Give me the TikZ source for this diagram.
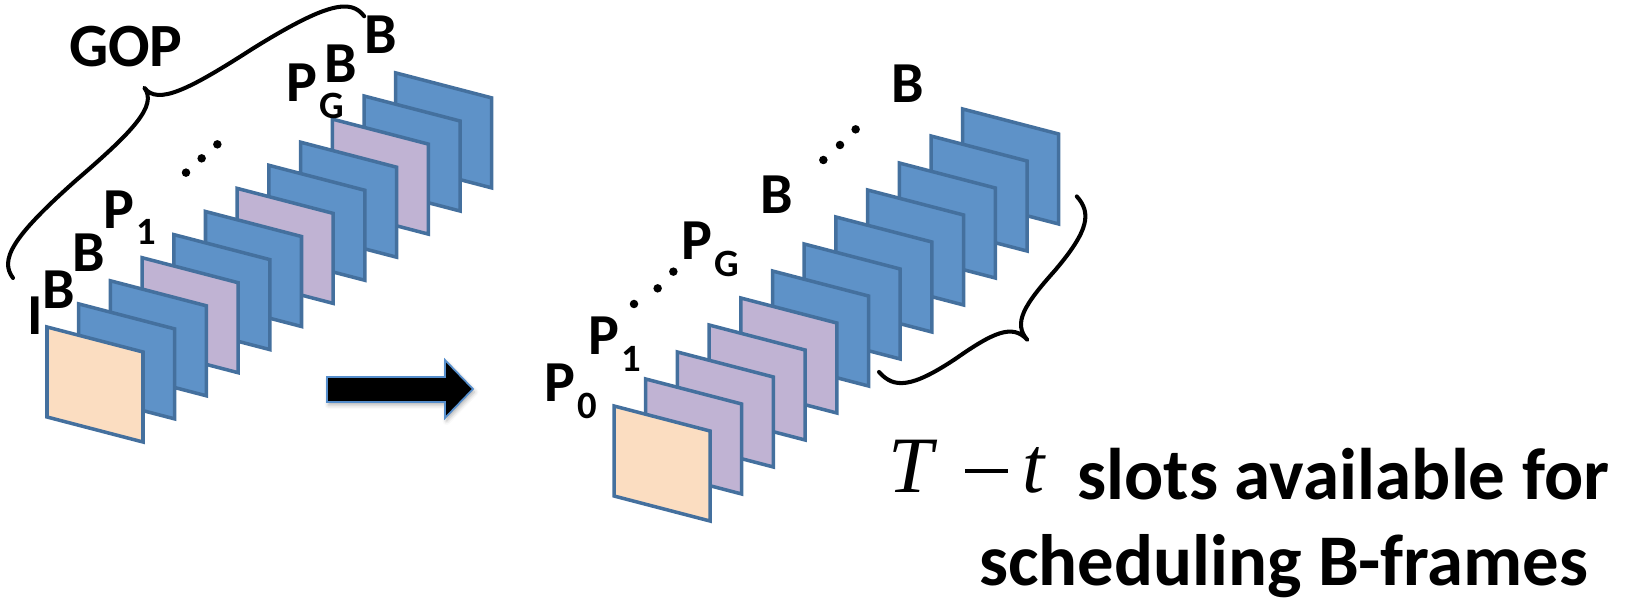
\documentclass[tikz,border=0pt]{standalone}
\usepackage{fontspec}
\setmainfont{Carlito}
\newfontfamily\timesfont{Liberation Serif}
\usetikzlibrary{shadows.blur}

\definecolor{frameblue}{RGB}{94,146,200}
\definecolor{framepurple}{RGB}{192,179,211}
\definecolor{framepeach}{RGB}{251,221,193}
\definecolor{frameedge}{RGB}{68,112,158}
\definecolor{arrowedge}{RGB}{86,142,204}

\newcommand{\labelsize}{\fontsize{33}{36}\selectfont\bfseries}
\newcommand{\subsize}{\fontsize{22}{24}\selectfont\bfseries}
% curly brace from (0,0) to (#1,0), tip at height #2
\newcommand{\bracepath}[2]{(0,0) .. controls (0,0.3*#2) and (0.05*#1,0.45*#2) .. (0.25*#1,0.55*#2)
  .. controls (0.42*#1,0.62*#2) and (0.5*#1,0.7*#2) .. (0.5*#1,#2)
  .. controls (0.5*#1,0.7*#2) and (0.58*#1,0.62*#2) .. (0.75*#1,0.55*#2)
  .. controls (0.95*#1,0.45*#2) and (#1,0.3*#2) .. (#1,0)}

\begin{document}
\begin{tikzpicture}[
    gopframe/.style={draw=frameedge, line width=2pt},
    lbl/.style={anchor=base west, inner sep=0pt, font=\labelsize},
    sublbl/.style={anchor=base west, inner sep=0pt, font=\subsize},
    bracestroke/.style={line width=2.3pt, line cap=round, line join=round}
  ]
  \useasboundingbox (0,0) rectangle (32.54,12.04);

  % GOP frames (drawn back to front)
  \foreach \i/\col in {11/frameblue,10/frameblue,9/framepurple,8/frameblue,7/frameblue,6/framepurple,
                       5/frameblue,4/frameblue,3/framepurple,2/frameblue,1/frameblue,0/framepeach}
    \draw[gopframe, fill=\col, shift={(0.94+\i*0.634,5.5+\i*0.462)}]
      (0,0) -- (1.92,-0.5) -- (1.92,-2.3) -- (0,-1.8) -- cycle;

  % frame labels
  \node[lbl] (iframe) at (0.54,5.34) {I};
  \node[lbl] (bfirst) at (0.85,5.866) {B};
  \node[lbl] (bsecond) at (1.44,6.606) {B};
  \node[lbl] (pone) at (2.066,7.474) {P};
  \node[sublbl] (ponesub) at ([xshift=1pt, yshift=-0.33cm]pone.base east) {1};
  \node[lbl] (pg) at (5.72,10.006) {P};
  \node[sublbl] (pgsub) at ([xshift=1pt, yshift=-0.33cm]pg.base east) {G};
  \node[lbl] (bmid) at (6.486,10.386) {B};
  \node[lbl] (blast) at (7.286,10.974) {B};
  \foreach \p in {(3.72,8.587),(4.033,8.873),(4.347,9.153)}
    \fill \p circle (0.085);

  % GOP brace
  \node[lbl, font=\fontsize{35}{38}\selectfont\bfseries] (gop) at (1.374,10.706) {GOP};
  \begin{scope}[shift={(0.26,6.48)}, rotate=36.7]
    \draw[bracestroke] \bracepath{8.76}{1.48};
  \end{scope}

  % block arrow
  \draw[arrowedge, line width=1pt, fill=black,
        blur shadow={shadow xshift=0.03cm, shadow yshift=-0.06cm, shadow blur radius=0.08cm, shadow opacity=30}]
    (6.54,4.5) -- (8.9,4.5) -- (8.9,4.84) -- (9.46,4.26) -- (8.9,3.68) -- (8.9,4.0) -- (6.54,4.0) -- cycle;

  % rescheduled frames
  \foreach \i/\col in {11/frameblue,10/frameblue,9/frameblue,8/frameblue,7/frameblue,6/frameblue,
                       5/frameblue,4/framepurple,3/framepurple,2/framepurple,1/framepurple,0/framepeach}
    \draw[gopframe, fill=\col, shift={(12.28+\i*0.634,3.92+\i*0.54)}]
      (0,0) -- (1.92,-0.5) -- (1.92,-2.3) -- (0,-1.8) -- cycle;

  \node[lbl] (pzero) at (10.874,4.006) {P};
  \node[sublbl] (pzerosub) at ([xshift=1pt, yshift=-0.33cm]pzero.base east) {0};
  \node[lbl] (ponebis) at (11.754,4.94) {P};
  \node[sublbl] (ponebissub) at ([xshift=1pt, yshift=-0.33cm]ponebis.base east) {1};
  \node[lbl] (pgbis) at (13.62,6.84) {P};
  \node[sublbl] (pgbissub) at ([xshift=1pt, yshift=-0.33cm]pgbis.base east) {G};
  \node[lbl] (bnext) at (15.206,7.774) {B};
  \node[lbl] (bend) at (17.82,9.986) {B};
  \foreach \p in {(12.68,5.96),(13.153,6.273),(13.467,6.607),(16.467,8.84),(16.8,9.14),(17.113,9.453)}
    \fill \p circle (0.085);

  % brace over the free slots
  \begin{scope}[shift={(17.58,4.6)}, rotate=41.6, yscale=-1]
    \draw[bracestroke] \bracepath{5.29}{1.49};
  \end{scope}

  % caption
  \node[anchor=base west, inner sep=0pt, font=\fontsize{45.5}{50}\selectfont\timesfont] (tminust)
    at (17.766,2.18) {\textit{T}\kern0.546cm\rule[0.40cm]{0.86cm}{0.08cm}\kern0.28cm\textit{t}};
  \node[anchor=base west, inner sep=0pt, font=\fontsize{41.6}{48}\selectfont\bfseries] (slots)
    at (21.54,2.04) {slots available for};
  \node[anchor=base west, inner sep=0pt, font=\fontsize{41.4}{48}\selectfont\bfseries] (sched)
    at (19.574,0.32) {scheduling B-frames};
\end{tikzpicture}
\end{document}
